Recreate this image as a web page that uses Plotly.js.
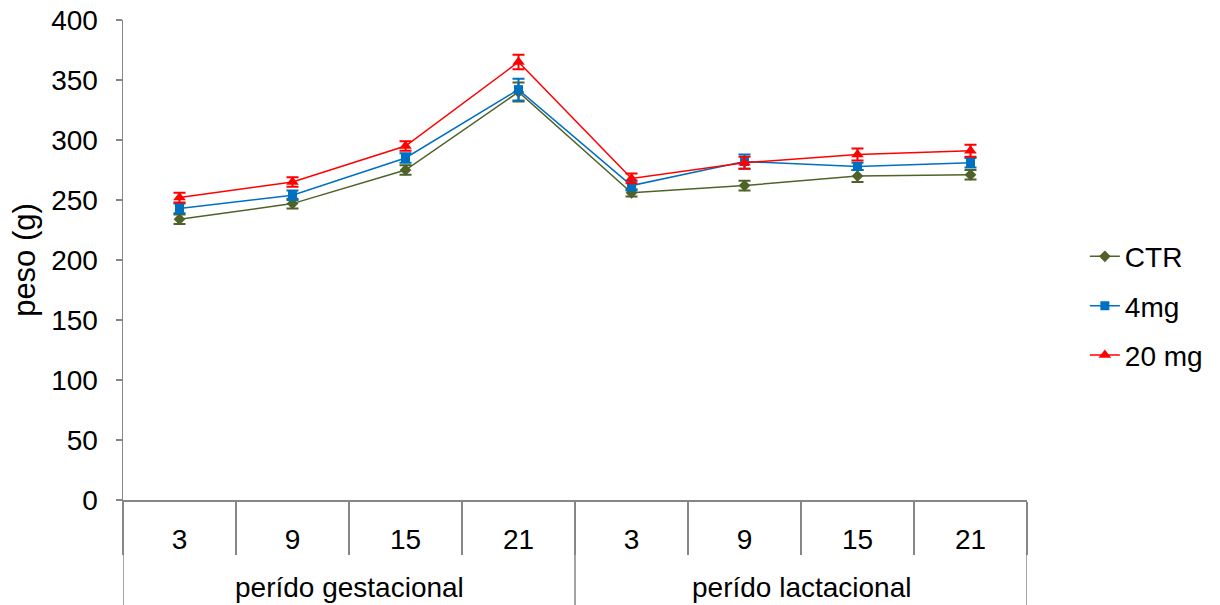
<!DOCTYPE html>
<html>
<head>
<meta charset="utf-8">
<script src="https://cdn.plot.ly/plotly-3.0.1.min.js"></script>
<style>html,body{margin:0;padding:0;background:#fff;}#chart{width:1220px;height:605px;}</style>
</head>
<body>
<div id="chart"></div>
<script>
const groups = ['perído gestacional','perído gestacional','perído gestacional','perído gestacional',
                'perído lactacional','perído lactacional','perído lactacional','perído lactacional'];
const days = ['3','9','15','21','3','9','15','21'];

const ctr = [234, 247, 275, 340, 256, 262, 270, 271];
const ctrErr = [4, 4, 4, 8, 3, 4, 5, 4];
const mg4 = [243, 254, 285, 342, 262, 282, 278, 281];
const mg4Err = [4, 4, 4, 9, 4, 6, 3, 4];
const mg20 = [252, 265, 295, 365, 268, 281, 288, 291];
const mg20Err = [4, 4, 4, 6, 4, 5, 5, 5];

const seriesNames = ['CTR', '4mg', '20 mg'];
const colors = ['#4F6228', '#0070C0', '#FF0000'];
const symbols = ['diamond', 'square', 'triangle-up'];
const sizes = [9, 9, 11];
const vals = [ctr, mg4, mg20];
const errs = [ctrErr, mg4Err, mg20Err];

const idx = days.map((d, i) => i);

const traces = vals.map((v, i) => ({
  type: 'scatter',
  mode: 'lines+markers',
  name: seriesNames[i],
  legendgroup: 'g' + i,
  x: idx,
  y: v,
  line: {color: colors[i], width: 1.5},
  marker: {color: colors[i], symbol: symbols[i], size: sizes[i]},
  error_y: {type: 'data', array: errs[i], visible: true, color: colors[i], thickness: 2, width: 6}
}));

// group labels centred under their categories
const groupNames = [...new Set(groups)];
const groupAnn = groupNames.map(g => {
  const members = idx.filter(i => groups[i] === g);
  const mid = (members[0] + members[members.length - 1]) / 2;
  return {
    x: mid, xref: 'x', y: -0.183, yref: 'paper', yanchor: 'middle',
    text: g, showarrow: false, font: {size: 28, color: '#000'}
  };
});

const axisGrey = '#868686';
// group dividers: plot edges and the boundary between groups
const groupEdges = [-0.5];
groupNames.forEach(g => {
  const members = idx.filter(i => groups[i] === g);
  groupEdges.push(members[members.length - 1] + 0.5);
});
const edgeShapes = groupEdges.map(px => ({
  type: 'line', xref: 'x', yref: 'paper',
  x0: px, x1: px, y0: 0, y1: -0.23,
  line: {color: axisGrey, width: 1.5}
}));

const layout = {
  width: 1220, height: 605,
  margin: {l: 123, r: 190, t: 20, b: 105},
  paper_bgcolor: '#fff', plot_bgcolor: '#fff',
  font: {family: '"Liberation Sans", Arial, sans-serif', size: 28, color: '#000'},
  showlegend: true,
  legend: {x: 1.064, y: 0.404, yanchor: 'middle', xanchor: 'left', font: {size: 28}, tracegroupgap: 10, itemwidth: 30},
  shapes: edgeShapes,
  annotations: groupAnn,
  xaxis: {
    range: [-0.5, 7.5],
    tickmode: 'array', tickvals: idx, ticktext: days,
    ticks: '', ticklabelstandoff: 14,
    minor: {ticks: 'outside', tick0: 0.5, dtick: 1, ticklen: 53, tickcolor: axisGrey, tickwidth: 1.5, showgrid: false},
    showline: true, linecolor: axisGrey, linewidth: 1.5,
    showgrid: false, zeroline: false,
    tickfont: {size: 28}
  },
  yaxis: {
    range: [0, 400], dtick: 50,
    showline: true, linecolor: axisGrey, linewidth: 1.5,
    ticks: 'outside', ticklen: 6, tickcolor: axisGrey, tickwidth: 1.5,
    ticklabelstandoff: 12,
    showgrid: false, zeroline: false,
    tickfont: {size: 28},
    title: {text: 'peso (g)', font: {size: 31}, standoff: 6}
  }
};

Plotly.newPlot('chart', traces, layout, {displayModeBar: false, staticPlot: true});
</script>
</body>
</html>
